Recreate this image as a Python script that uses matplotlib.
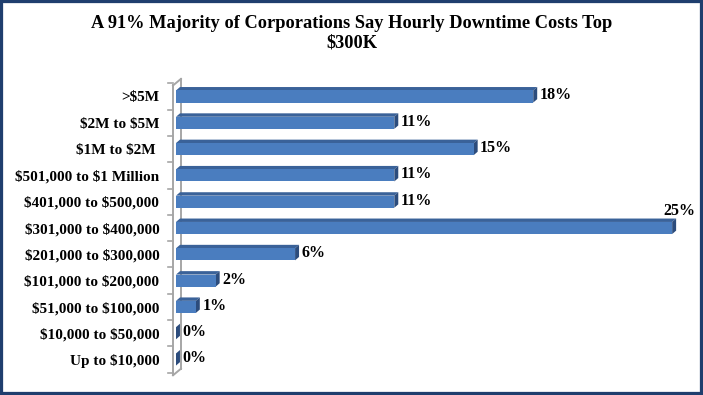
import numpy as np
import matplotlib
matplotlib.use('Agg')
import matplotlib.pyplot as plt
from matplotlib.patches import Polygon, Rectangle

plt.rcParams['text.parse_math'] = False

# data (top to bottom as shown)
categories = ['>$5M', '$2M to $5M', '$1M to $2M ', '$501,000 to $1 Million',
              '$401,000 to $500,000', '$301,000 to $400,000', '$201,000 to $300,000',
              '$101,000 to $200,000', '$51,000 to $100,000', '$10,000 to $50,000',
              'Up to $10,000']
values = [18, 11, 15, 11, 11, 25, 6, 2, 1, 0, 0]
labels = ['18%', '11%', '15%', '11%', '11%', '25%', '6%', '2%', '1%', '0%', '0%']
title = 'A 91% Majority of Corporations Say Hourly Downtime Costs Top\n$300K'

front_c = '#4A7DBF'
top_c = '#3A6299'
side_c = '#2C4C7C'
wall_c = '#A6A6A6'
font = 'Liberation Serif'

W, H = 703, 395
fig = plt.figure(figsize=(W / 100, H / 100), dpi=100)

# axes placed in pixels: x=0 at 176px, 26 at 692px; rows centred 96.5..359.5
ax_l, ax_r = 176, 692
ax_t, ax_b = 83.35, 372.65
ax = fig.add_axes([ax_l / W, 1 - ax_b / H, (ax_r - ax_l) / W, (ax_b - ax_t) / H])
ax.set_xlim(0, 26)
ax.set_ylim(10.5, -0.5)
for s in ax.spines.values():
    s.set_visible(False)
ax.set_xticks([])

ypos = np.arange(len(categories))
ax.set_yticks(ypos)
ax.set_yticklabels(categories, fontfamily=font, fontweight='bold', fontsize=11)
ax.tick_params(axis='y', length=0, pad=12)

# 3d offsets in data units
dx, dy = 0.2, 0.13
h = 0.46

# axis wall
wx0, wx1 = -0.15, 0.25
wdy = 0.25
ax.plot([wx0, wx0], [-0.42, 10.6], color=wall_c, lw=1.4, clip_on=False, zorder=1)
ax.plot([wx1, wx1], [-0.42 - wdy, 10.6 - wdy], color=wall_c, lw=1.4, clip_on=False, zorder=1)
ax.plot([wx0, wx1], [-0.42, -0.42 - wdy], color=wall_c, lw=1.4, clip_on=False, zorder=1)
ax.plot([wx0, wx1], [10.6, 10.6 - wdy], color=wall_c, lw=1.4, clip_on=False, zorder=1)
for b in np.arange(-0.5, 11, 1.0):
    ax.plot([-0.42, wx0], [b, b], color=wall_c, lw=1.2, clip_on=False, zorder=1)

for y, v, lab in zip(ypos, values, labels):
    yt, yb = y - h / 2, y + h / 2
    # top face
    ax.add_patch(Polygon([(0, yt), (v, yt), (v + dx, yt - dy), (dx, yt - dy)],
                         closed=True, facecolor=top_c, edgecolor='none', zorder=3))
    # side face
    ax.add_patch(Polygon([(v, yt), (v + dx, yt - dy), (v + dx, yb - dy), (v, yb)],
                         closed=True, facecolor=side_c, edgecolor='none', zorder=3))
    # front face
    ax.barh(y, v, height=h, left=0, color=front_c, edgecolor='none', zorder=4)
    if v == max(values):
        ax.text(v + dx + 0.15, y - 0.66, lab, ha='center', va='center',
                fontfamily=font, fontweight='bold', fontsize=11.5, clip_on=False)
    else:
        ax.text(v + dx + 0.12, y - 0.04, lab, ha='left', va='center',
                fontfamily=font, fontweight='bold', fontsize=11.5)

fig.text(0.5, 1 - 33 / H, title, ha='center', va='center', fontfamily=font,
         fontweight='bold', fontsize=13.2, linespacing=1.2)

# dark blue frame round the picture
fig.patches.append(Rectangle((0, 0), 1, 1, transform=fig.transFigure, fill=False,
                             edgecolor='#1F3E6E', lw=4.5))

fig.savefig('out.png', dpi=100)
